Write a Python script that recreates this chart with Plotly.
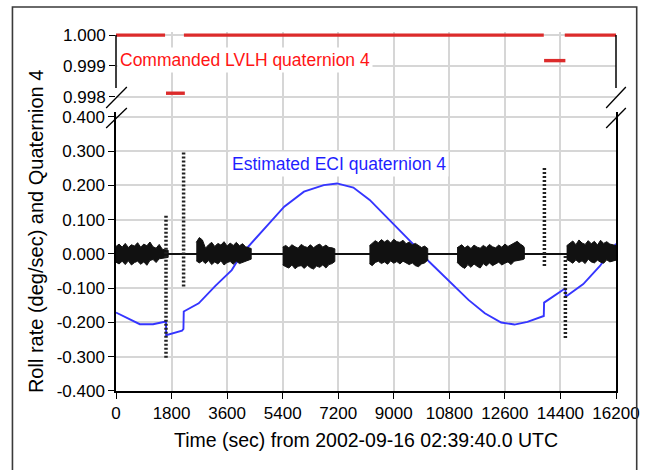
import plotly.graph_objects as go

FONT = "Liberation Sans, Arial, sans-serif"

# ---------------- data ----------------
x_ticks = [0, 1800, 3600, 5400, 7200, 9000, 10800, 12600, 14400, 16200]
x_ticktext = ["0", "1800", "3600", "5400", "7200", "9000", "10800", "12600", "14400", "16200"]

y_ticks_lower = [-0.4, -0.3, -0.2, -0.1, 0.0, 0.1, 0.2, 0.3, 0.4]
y_ticktext_lower = ["-0.400", "-0.300", "-0.200", "-0.100", "0.000", "0.100", "0.200", "0.300", "0.400"]
y_ticks_upper = [0.998, 0.999, 1.000]
y_ticktext_upper = ["0.998", "0.999", "1.000"]

# Commanded LVLH quaternion 4 (separate step segments)
cmd_t = [0, 1590, None, 1620, 2230, None, 2200, 13860, None, 13870, 14560, None, 14540, 16200]
cmd_q = [1.0, 1.0, None, 0.99811, 0.99811, None, 1.0, 1.0, None, 0.99917, 0.99917, None, 1.0, 1.0]

# Estimated ECI quaternion 4
eci_t = [0, 400, 770, 1200, 1560, 1620, 1625, 2140, 2185, 2195, 2680, 3220, 3750, 4070,
         4920, 5450, 6090, 6730, 7160, 7690, 8220, 8750, 9290, 9660, 10140, 10890, 11420,
         11950, 12480, 12910, 13330, 13860, 13870, 14560, 14570, 15140, 15680, 16200]
eci_q = [-0.171, -0.189, -0.205, -0.205, -0.199, -0.197, -0.237, -0.224, -0.219, -0.168,
         -0.144, -0.093, -0.047, 0.000, 0.085, 0.138, 0.182, 0.201, 0.206, 0.194, 0.158,
         0.109, 0.060, 0.026, -0.022, -0.086, -0.134, -0.173, -0.200, -0.206, -0.198,
         -0.181, -0.142, -0.100, -0.125, -0.088, -0.035, 0.030]

# Roll rate: baseline, noisy-band envelopes, and spikes
roll_base_t = [0, 16200]
roll_base_v = [0.0, 0.0]

noise_a_t = [0, 100, 200, 300, 400, 500, 600, 700, 800, 900, 1000, 1100, 1200, 1300, 1400, 1500, 1600, 1690]
noise_a_hi = [0.022, 0.029, 0.020, 0.031, 0.019, 0.027, 0.023, 0.033, 0.020, 0.029, 0.024, 0.035, 0.021, 0.017, 0.028, 0.014, 0.012, 0.011]
noise_a_lo = [-0.024, -0.029, -0.021, -0.031, -0.020, -0.032, -0.025, -0.021, -0.030, -0.023, -0.033, -0.019, -0.016, -0.025, -0.014, -0.013, -0.011, -0.010]

noise_b_t = [2600, 2700, 2800, 2900, 3000, 3100, 3200, 3300, 3400, 3500, 3600, 3700, 3800, 3900, 4000, 4100, 4200, 4300, 4380]
noise_b_hi = [0.034, 0.048, 0.041, 0.017, 0.027, 0.034, 0.022, 0.031, 0.026, 0.036, 0.023, 0.032, 0.025, 0.034, 0.024, 0.030, 0.021, 0.019, 0.016]
noise_b_lo = [-0.020, -0.026, -0.020, -0.028, -0.019, -0.031, -0.023, -0.029, -0.020, -0.032, -0.025, -0.022, -0.030, -0.021, -0.028, -0.024, -0.020, -0.018, -0.015]

noise_c_t = [5400, 5500, 5600, 5700, 5800, 5900, 6000, 6100, 6200, 6300, 6400, 6500, 6600, 6700, 6800, 6900, 7000, 7090]
noise_c_hi = [0.020, 0.025, 0.018, 0.027, 0.021, 0.017, 0.028, 0.022, 0.019, 0.027, 0.018, 0.025, 0.029, 0.020, 0.026, 0.019, 0.018, 0.015]
noise_c_lo = [-0.032, -0.037, -0.041, -0.032, -0.043, -0.036, -0.034, -0.042, -0.033, -0.040, -0.044, -0.035, -0.039, -0.032, -0.041, -0.031, -0.028, -0.022]

noise_d_t = [8210, 8300, 8400, 8500, 8600, 8700, 8800, 8900, 9000, 9100, 9200, 9300, 9400, 9500, 9600, 9700, 9800, 9900, 10000, 10100]
noise_d_hi = [0.024, 0.031, 0.039, 0.033, 0.042, 0.035, 0.041, 0.032, 0.043, 0.036, 0.034, 0.040, 0.030, 0.035, 0.027, 0.031, 0.024, 0.019, 0.023, 0.016]
noise_d_lo = [-0.028, -0.034, -0.025, -0.021, -0.028, -0.023, -0.030, -0.020, -0.027, -0.022, -0.029, -0.021, -0.026, -0.031, -0.026, -0.034, -0.037, -0.029, -0.026, -0.018]

noise_e_t = [11050, 11100, 11200, 11300, 11400, 11500, 11600, 11700, 11800, 11900, 12000, 12100, 12200, 12300, 12400, 12500, 12600, 12700, 12800, 12900, 13000, 13100, 13200, 13230]
noise_e_hi = [0.018, 0.021, 0.027, 0.018, 0.024, 0.016, 0.026, 0.020, 0.017, 0.025, 0.019, 0.028, 0.021, 0.018, 0.026, 0.020, 0.029, 0.022, 0.027, 0.034, 0.037, 0.029, 0.023, 0.018]
noise_e_lo = [-0.024, -0.029, -0.037, -0.042, -0.031, -0.039, -0.029, -0.036, -0.041, -0.028, -0.035, -0.026, -0.034, -0.029, -0.024, -0.032, -0.027, -0.023, -0.031, -0.021, -0.019, -0.017, -0.016, -0.014]

noise_f_t = [14600, 14700, 14800, 14900, 15000, 15100, 15200, 15300, 15400, 15500, 15600, 15700, 15800, 15900, 16000, 16100, 16200]
noise_f_hi = [0.024, 0.031, 0.038, 0.027, 0.041, 0.032, 0.028, 0.039, 0.030, 0.037, 0.026, 0.040, 0.031, 0.036, 0.029, 0.027, 0.024]
noise_f_lo = [-0.016, -0.021, -0.027, -0.017, -0.025, -0.020, -0.028, -0.015, -0.023, -0.026, -0.018, -0.024, -0.027, -0.017, -0.023, -0.020, -0.018]

spike_t = [1620, 2190, 13880, 14560]
spike_lo = [-0.303, -0.095, -0.035, -0.245]
spike_hi = [0.112, 0.300, 0.252, -0.005]

# ---------------- figure ----------------
fig = go.Figure()

fig.add_trace(go.Scatter(x=cmd_t, y=cmd_q, xaxis="x2", yaxis="y2", mode="lines",
                         line=dict(color="#dc2b2b", width=3.4), connectgaps=False,
                         hoverinfo="skip", showlegend=False))

fig.add_trace(go.Scatter(x=eci_t, y=eci_q, xaxis="x", yaxis="y", mode="lines",
                         line=dict(color="#3535ff", width=1.9),
                         hoverinfo="skip", showlegend=False))

fig.add_trace(go.Scatter(x=roll_base_t, y=roll_base_v, xaxis="x", yaxis="y", mode="lines",
                         line=dict(color="#111111", width=2.2),
                         hoverinfo="skip", showlegend=False))

for nt, nh, nl in [(noise_a_t, noise_a_hi, noise_a_lo), (noise_b_t, noise_b_hi, noise_b_lo),
                   (noise_c_t, noise_c_hi, noise_c_lo), (noise_d_t, noise_d_hi, noise_d_lo),
                   (noise_e_t, noise_e_hi, noise_e_lo), (noise_f_t, noise_f_hi, noise_f_lo)]:
    fig.add_trace(go.Scatter(x=nt + nt[::-1], y=nh + nl[::-1], xaxis="x", yaxis="y",
                             mode="lines", fill="toself", fillcolor="#111111",
                             line=dict(color="#111111", width=1),
                             hoverinfo="skip", showlegend=False))

for st, slo, shi in zip(spike_t, spike_lo, spike_hi):
    fig.add_trace(go.Scatter(x=[st, st], y=[slo, shi], xaxis="x", yaxis="y", mode="lines",
                             line=dict(color="#222222", width=3.5, dash="2px,2px"),
                             hoverinfo="skip", showlegend=False))

GRID = "#d6d6d6"
DOM_SPLIT = 0.7772
fig.update_layout(
    width=652, height=470,
    margin=dict(l=116, r=29, t=32, b=79),
    paper_bgcolor="white", plot_bgcolor="white",
    font=dict(family=FONT, size=17, color="black"),
    showlegend=False,
    xaxis=dict(range=[0, 16200], tickmode="array", tickvals=x_ticks, ticktext=x_ticktext,
               ticks="outside", ticklen=6, tickcolor="black", tickwidth=1.2,
               showline=True, linecolor="black", linewidth=1.5,
               showgrid=True, gridcolor=GRID, gridwidth=1.5, zeroline=False,
               anchor="y", tickangle=0, tickfont=dict(size=17)),
    xaxis2=dict(range=[0, 16200], matches="x", tickmode="array", tickvals=x_ticks,
                showticklabels=False, ticks="", showline=False,
                showgrid=True, gridcolor=GRID, gridwidth=1.5, zeroline=False,
                anchor="y2"),
    yaxis=dict(domain=[0, DOM_SPLIT], range=[-0.4, 0.4146], tickmode="array",
               tickvals=y_ticks_lower, ticktext=y_ticktext_lower,
               ticks="outside", ticklen=6, tickcolor="black", tickwidth=1.2,
               showline=True, mirror=True, linecolor="black", linewidth=1.5,
               showgrid=True, gridcolor=GRID, gridwidth=1.5, zeroline=False,
               anchor="x", tickfont=dict(size=17)),
    yaxis2=dict(domain=[DOM_SPLIT, 1.0], range=[0.9975, 1.0001], tickmode="array",
                tickvals=y_ticks_upper, ticktext=y_ticktext_upper,
                ticks="outside", ticklen=6, tickcolor="black", tickwidth=1.2,
                showline=False, showgrid=True, gridcolor=GRID, gridwidth=1.5,
                zeroline=False, anchor="x2", tickfont=dict(size=17)),
)

shapes = [
    # top frame line under the commanded quaternion
    dict(type="line", xref="x2", yref="y2", x0=0, x1=16200, y0=1.0, y1=1.0,
         line=dict(color="black", width=1.3), layer="below"),
    # top-panel axis lines (broken axis)
    dict(type="line", xref="paper", yref="y2", x0=0, x1=0, y0=1.0, y1=0.99828,
         line=dict(color="black", width=1.5)),
    dict(type="line", xref="paper", yref="y2", x0=1, x1=1, y0=1.0, y1=0.99828,
         line=dict(color="black", width=1.5)),
    # break slashes
    dict(type="line", xref="paper", yref="paper", x0=-0.0197, y0=0.7883, x1=0.0217, y1=0.8468,
         line=dict(color="black", width=1.3)),
    dict(type="line", xref="paper", yref="paper", x0=-0.0197, y0=0.7326, x1=0.0217, y1=0.7883,
         line=dict(color="black", width=1.3)),
    dict(type="line", xref="paper", yref="paper", x0=0.9803, y0=0.7883, x1=1.0197, y1=0.8468,
         line=dict(color="black", width=1.3)),
    dict(type="line", xref="paper", yref="paper", x0=0.9803, y0=0.7326, x1=1.0197, y1=0.7883,
         line=dict(color="black", width=1.3)),
    # outer frame
    dict(type="rect", xref="paper", yref="paper", x0=-0.2071, x1=1.0414, y0=-0.3, y1=1.0696,
         line=dict(color="#3a3a3a", width=1.6), fillcolor="rgba(0,0,0,0)"),
]
fig.update_layout(shapes=shapes)

annotations = [
    dict(text="Roll rate (deg/sec) and Quaternion 4", xref="paper", yref="paper",
         x=-0.1598, y=0.4457, textangle=-90, showarrow=False,
         xanchor="center", yanchor="middle", font=dict(size=20, color="black")),
    dict(text="Time (sec) from 2002-09-16 02:39:40.0 UTC", xref="paper", yref="paper",
         x=0.5, y=-0.1365, showarrow=False, xanchor="center", yanchor="middle",
         font=dict(size=19.5, color="black")),
    dict(text="Commanded LVLH quaternion 4", xref="x2", yref="y2", x=40, y=0.99919,
         showarrow=False, xanchor="left", yanchor="middle", bgcolor="white", borderpad=2,
         font=dict(size=17.5, color="#ff1414")),
    dict(text="Estimated ECI quaternion 4", xref="x", yref="y", x=3650, y=0.263,
         showarrow=False, xanchor="left", yanchor="middle", bgcolor="white", borderpad=2,
         font=dict(size=17.5, color="#1f1fff")),
    dict(text="Roll rate", xref="x", yref="y", x=-40, y=0.158,
         showarrow=False, xanchor="left", yanchor="middle", bgcolor="white", borderpad=2,
         font=dict(size=16, color="black")),
]
fig.update_layout(annotations=annotations)

fig.write_html("out.html")
